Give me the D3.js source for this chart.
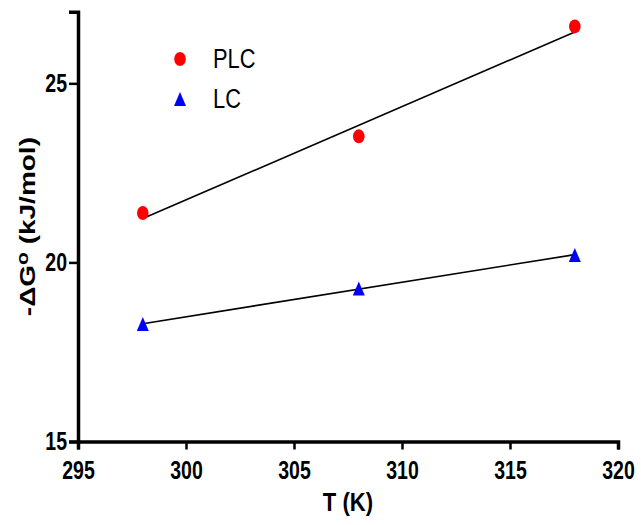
<!DOCTYPE html>
<html>
<head>
<meta charset="utf-8">
<script src="https://cdn.jsdelivr.net/npm/d3@7"></script>
<style>
  body { margin: 0; background: #fff; }
  svg { display: block; font-family: "Liberation Sans", Arial, sans-serif; }
</style>
</head>
<body>
<div id="svg"></div>
<script>
// data
let temps = [298, 308, 318]
let plc = [21.38, 23.52, 26.59]
let lc = [18.28, 19.27, 20.21]
let xTicks = [295, 300, 305, 310, 315, 320]
let yTicks = [15, 20, 25]

let width = 641, height = 525
let squeeze = 0.78 // text in the source is narrow

let svg = d3.select('#svg')
.append('svg')
.attr('width', width)
.attr('height', height)

let xScale = d3.scaleLinear()
.domain([295, 320])
.range([78, 618])

let yScale = d3.scaleLinear()
.domain([15, 27])
.range([441.5, 11.7])

// least squares line through each series
function fit(xs, ys) {
	let mx = d3.mean(xs), my = d3.mean(ys)
	let sxy = d3.sum(xs, (x, i) => (x - mx) * (ys[i] - my))
	let sxx = d3.sum(xs, x => (x - mx) * (x - mx))
	let b = sxy / sxx
	let a = my - b * mx
	return [xs[0], xs[xs.length - 1]].map(x => [x, a + b * x])
}

let lineFunc = d3.line()
.x(d => xScale(d[0]))
.y(d => yScale(d[1]))

svg.selectAll('.fit-line')
.data([fit(temps, plc), fit(temps, lc)])
.join('path')
.attr('class', 'fit-line')
.attr('d', lineFunc)
.style('fill', 'none')
.style('stroke', '#000')
.style('stroke-width', 1.6)

// axes
let xAxis = svg.append('g')
.attr('transform', `translate(0, ${yScale(15)})`)
.call(d3.axisBottom(xScale).tickValues(xTicks).tickSizeOuter(0).tickSize(8))

xAxis.selectAll('text')
.attr('y', 0)
.attr('dy', '0.71em')
.attr('transform', `translate(0, 19.5) scale(${squeeze}, 1)`)

let yAxis = svg.append('g')
.attr('transform', `translate(${xScale(295)}, 0)`)
.call(d3.axisLeft(yScale).tickValues(yTicks).tickSizeOuter(0).tickSize(9))

yAxis.selectAll('text')
.attr('x', 0)
.attr('transform', `translate(-11, 0) scale(${squeeze}, 1)`)

svg.selectAll('.domain')
.style('stroke', '#000')
.style('stroke-width', 3.5)

svg.selectAll('.tick line')
.style('stroke', '#000')
.style('stroke-width', 2.5)

svg.selectAll('.tick text')
.style('font-size', '25px')
.style('font-weight', 'bold')
.style('fill', '#000')

// axis titles
svg.append('text')
.text('T (K)')
.attr('transform', `translate(${(xScale(295) + xScale(320)) / 2}, 511) scale(0.85, 1)`)
.style('text-anchor', 'middle')
.style('font-size', '26px')
.style('font-weight', 'bold')

let yTitle = svg.append('text')
.attr('transform', `translate(35, ${(yScale(15) + yScale(27)) / 2}) rotate(-90) scale(1, ${squeeze})`)
.style('text-anchor', 'middle')
.style('font-size', '28px')
.style('font-weight', 'bold')

yTitle.append('tspan').text('-ΔG')
yTitle.append('tspan').text('o').attr('dy', -9).style('font-size', '21px')
yTitle.append('tspan').text(' (kJ/mol)').attr('dy', 9)

// markers
let triangle = (cx, cy) => `M${cx},${cy - 7}L${cx + 6},${cy + 7}L${cx - 6},${cy + 7}Z`

svg.selectAll('.plc')
.data(temps.map((t, i) => [t, plc[i]]))
.join('ellipse')
.attr('class', 'plc')
.attr('cx', d => xScale(d[0]))
.attr('cy', d => yScale(d[1]))
.attr('rx', 5.8)
.attr('ry', 7)
.style('fill', '#ff0000')

svg.selectAll('.lc')
.data(temps.map((t, i) => [t, lc[i]]))
.join('path')
.attr('class', 'lc')
.attr('d', d => triangle(xScale(d[0]), yScale(d[1])))
.style('fill', '#0000ff')

// legend
let legend = svg.append('g')

legend.append('ellipse')
.attr('cx', 180)
.attr('cy', 59)
.attr('rx', 5.8)
.attr('ry', 7)
.style('fill', '#ff0000')

legend.append('path')
.attr('d', triangle(180, 99))
.style('fill', '#0000ff')

legend.selectAll('text')
.data(['PLC', 'LC'])
.join('text')
.text(d => d)
.attr('transform', (d, i) => `translate(213, ${68 + i * 39.5}) scale(${squeeze}, 1)`)
.style('font-size', '28px')
</script>
</body>
</html>
